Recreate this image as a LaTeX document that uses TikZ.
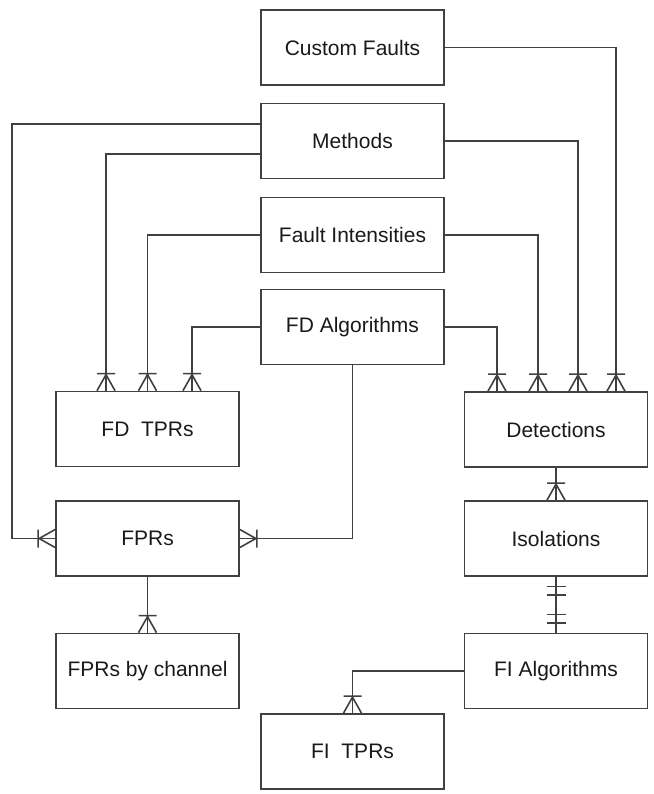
\documentclass[tikz,border=0pt]{standalone}
\usepackage{fontspec}
\setmainfont{Liberation Sans}
\definecolor{ln}{HTML}{404040}
\begin{document}
\begin{tikzpicture}[x=1pt,y=-1pt,
  ent/.style={draw=ln, line width=1.7pt, minimum width=183pt, minimum height=75pt, inner sep=0pt,
    font=\fontsize{21pt}{24pt}\selectfont, text=black!90},
  conn/.style={draw=ln, line width=1.6pt},
  onemany/.pic={\draw[conn] (-9pt,0pt) -- (0pt,16pt) -- (9pt,0pt) (-9pt,17pt) -- (9pt,17pt);},
  oneone/.pic={\draw[conn] (-9.5pt,9.5pt) -- (9.5pt,9.5pt) (-9.5pt,18pt) -- (9.5pt,18pt);}
]
\useasboundingbox (0,0) rectangle (653,794);
\node[ent] (cf)   at (352.5,47.5) {Custom Faults};
\node[ent] (me)   at (352.5,141)  {Methods};
\node[ent] (fi)   at (352.5,235)  {Fault Intensities};
\node[ent] (fda)  at (352.5,327)  {FD Algorithms};
\node[ent] (fdt)  at (147.5,429)  {FD\ \ TPRs};
\node[ent] (det)  at (556,429.5)  {Detections};
\node[ent] (fpr)  at (147.5,538.5){FPRs};
\node[ent] (iso)  at (556,538.5)  {Isolations};
\node[ent] (fprc) at (147.5,671)  {FPRs by channel};
\node[ent] (fia)  at (556,671)    {FI Algorithms};
\node[ent] (fit)  at (352.5,751.5){FI\ \ TPRs};

% connectors
\draw[conn] (cf.east) -| ([xshift=60pt]det.north);
\draw[conn] (me.east) -| ([xshift=22pt]det.north);
\draw[conn] (fi.east) -| ([xshift=-18pt]det.north);
\draw[conn] (fda.east) -| ([xshift=-59pt]det.north);
\draw[conn] ([yshift=17pt]me.west) -- ++(-248,0) |- (fpr.west);
\draw[conn] ([yshift=-13pt]me.west) -| ([xshift=-41.5pt]fdt.north);
\draw[conn] (fi.west) -| (fdt.north);
\draw[conn] (fda.west) -| ([xshift=44.5pt]fdt.north);
\draw[conn] (fda.south) |- (fpr.east);
\draw[conn] (fpr.south) -- (fprc.north);
\draw[conn] (det.south) -- (iso.north);
\draw[conn] (iso.south) -- (fia.north);
\draw[conn] (fia.west) -| (fit.north);

% markers
\pic at ([xshift=60pt]det.north) {onemany};
\pic at ([xshift=22pt]det.north) {onemany};
\pic at ([xshift=-18pt]det.north) {onemany};
\pic at ([xshift=-59pt]det.north) {onemany};
\pic at ([xshift=-41.5pt]fdt.north) {onemany};
\pic at (fdt.north) {onemany};
\pic at ([xshift=44.5pt]fdt.north) {onemany};
\pic[rotate=90] at (fpr.west) {onemany};
\pic[rotate=-90] at (fpr.east) {onemany};
\pic at (fprc.north) {onemany};
\pic at (iso.north) {onemany};
\pic at (fit.north) {onemany};
\pic[rotate=180] at (iso.south) {oneone};
\pic at (fia.north) {oneone};
\end{tikzpicture}
\end{document}
